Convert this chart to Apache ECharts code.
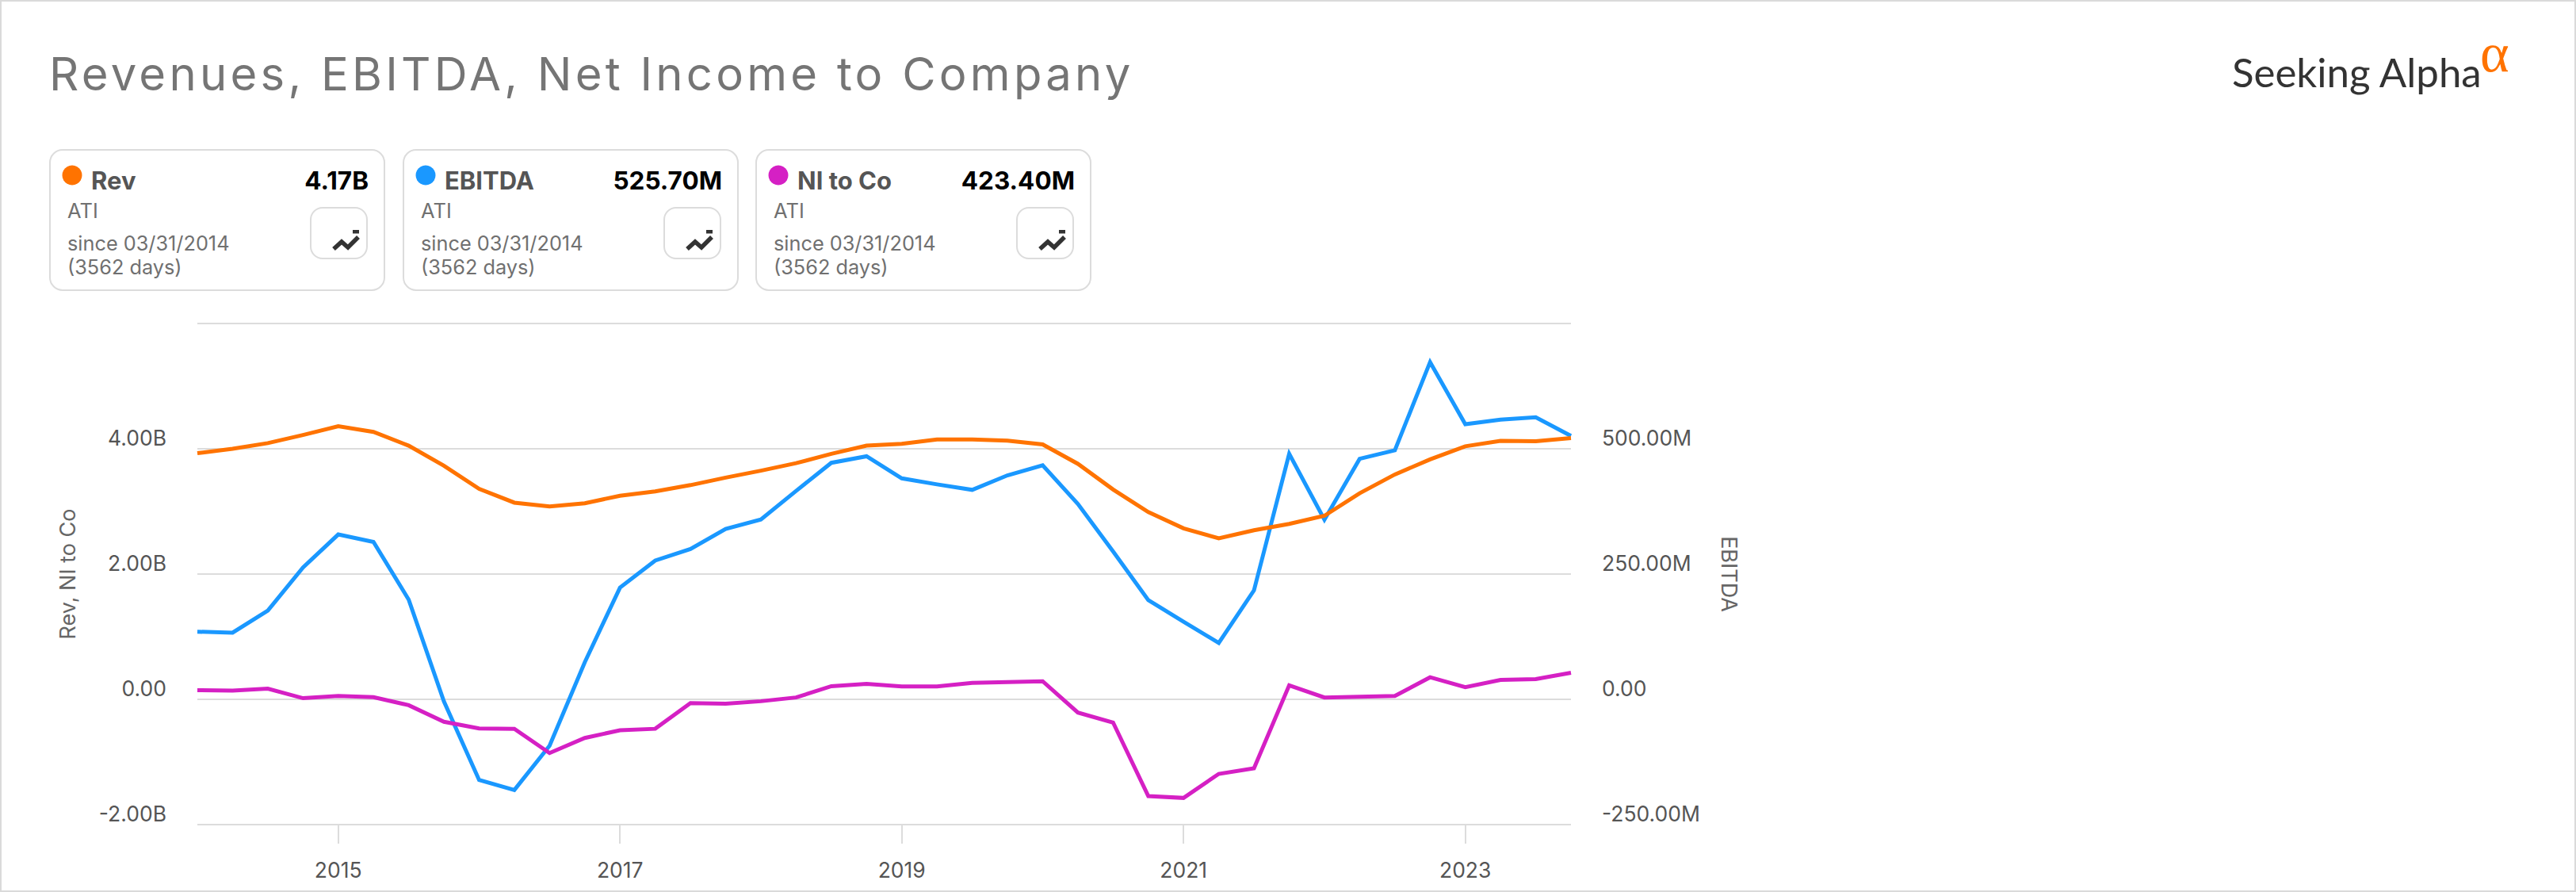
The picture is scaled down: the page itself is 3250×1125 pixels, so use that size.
<!DOCTYPE html>
<html>
<head>
<meta charset="utf-8">
<style>
html,body{margin:0;padding:0;background:#fff}
#chart{width:3250px;height:1125px}
</style>
<script src="https://cdn.jsdelivr.net/npm/echarts@6/dist/echarts.min.js"></script>
</head>
<body>
<div id="chart"></div>
<script>
const titleText = 'Revenues, EBITDA, Net Income to Company';
const quarters = [
 '2014-01','2014-04','2014-07','2014-10','2015-01','2015-04','2015-07','2015-10',
 '2016-01','2016-04','2016-07','2016-10','2017-01','2017-04','2017-07','2017-10',
 '2018-01','2018-04','2018-07','2018-10','2019-01','2019-04','2019-07','2019-10',
 '2020-01','2020-04','2020-07','2020-10','2021-01','2021-04','2021-07','2021-10',
 '2022-01','2022-04','2022-07','2022-10','2023-01','2023-04','2023-07','2023-10'];
const revB = [3.93,4.0,4.09,4.22,4.36,4.27,4.05,3.73,3.36,3.14,3.08,3.13,3.25,3.32,3.42,3.54,3.65,3.77,3.92,4.05,
 4.08,4.15,4.15,4.13,4.07,3.76,3.35,2.99,2.73,2.57,2.70,2.80,2.93,3.29,3.59,3.83,4.04,4.125,4.12,4.17];
const niB = [0.147,0.14,0.17,0.018,0.053,0.035,-0.094,-0.358,-0.464,-0.47,-0.857,-0.617,-0.493,-0.47,-0.059,-0.07,-0.03,0.03,0.21,0.247,
 0.206,0.206,0.264,0.276,0.288,-0.211,-0.37,-1.545,-1.574,-1.19,-1.10,0.223,0.03,0.04,0.053,0.352,0.194,0.311,0.323,0.4234];
const ebitdaM = [135,133,177,263,329,314,199,-4,-161,-181,-92.5,74,223,277,300,340,359,416,472,485,
 441,429,418,447,467,390,295,198,155,112.5,217.5,490,358.5,480,497,673,549,558,563,525.7];

const cardNames = ['Rev','EBITDA','NI to Co'];
const cardValues = ['4.17B','525.70M','423.40M'];
const cardTicker = 'ATI';
const cardSince = 'since 03/31/2014';
const cardDays = '(3562 days)';
const colors = ['#ff7300','#1a98ff','#d520c4'];
const FONT = 'Inter, "Noto Sans", sans-serif';
const GRID = '#dcdcdc', LABEL = '#555555';

const cardX = [63,509,954];
const graphics = [];
graphics.push({type:'rect',shape:{x:1,y:1,width:3248,height:1123},style:{fill:'none',stroke:'#dadada',lineWidth:2},silent:true});
graphics.push({type:'text',id:'chartTitle',x:62,y:93,style:{text:titleText,font:'400 58px '+FONT,fill:'#757575',textVerticalAlign:'middle',textAlign:'left'}});
// logo
graphics.push({type:'text',x:2816,y:90,style:{text:'Seeking Alpha',font:'400 51px Lato, sans-serif',fill:'#333333',textVerticalAlign:'middle',textAlign:'left'}});
graphics.push({type:'text',x:3129,y:66,style:{text:'α',font:'400 70px "Liberation Serif", serif',fill:'#ff7300',textVerticalAlign:'middle',textAlign:'left'}});

cardX.forEach((x,i)=>{
  graphics.push({type:'rect',shape:{x:x,y:189,width:422,height:177,r:16},style:{fill:'#fff',stroke:'#dcdcdc',lineWidth:2}});
  graphics.push({type:'circle',shape:{cx:x+28,cy:221,r:12.5},style:{fill:colors[i]}});
  graphics.push({type:'text',x:x+52,y:227,style:{text:cardNames[i],font:'700 31px '+FONT,fill:'#555555',textVerticalAlign:'middle'}});
  graphics.push({type:'text',x:x+402,y:227,style:{text:cardValues[i],font:'700 31.5px '+FONT,fill:'#000000',textVerticalAlign:'middle',textAlign:'right'}});
  graphics.push({type:'text',x:x+22,y:265,style:{text:cardTicker,font:'400 25.5px '+FONT,fill:'#707070',textVerticalAlign:'middle'}});
  graphics.push({type:'text',x:x+22,y:306,style:{text:cardSince,font:'400 25.3px '+FONT,fill:'#707070',textVerticalAlign:'middle'}});
  graphics.push({type:'text',x:x+22,y:336,style:{text:cardDays,font:'400 25.3px '+FONT,fill:'#707070',textVerticalAlign:'middle'}});
  graphics.push({type:'rect',shape:{x:x+329,y:262,width:71,height:64,r:15},style:{fill:'#fff',stroke:'#dcdcdc',lineWidth:2}});
  graphics.push({type:'polyline',shape:{points:[[x+358,314],[x+368,305],[x+376,312],[x+389,299]]},style:{fill:'none',stroke:'#333333',lineWidth:5.5,lineJoin:'miter'}});
  graphics.push({type:'rect',shape:{x:x+382,y:290,width:8,height:4.5},style:{fill:'#333333'}});
});

const isTickYear = (idx)=>{
  const q = quarters[idx];
  return q.endsWith('-01') && Number(q.slice(0,4))%2===1;
};
const fmtLeft = v => v===0 ? '0.00' : (v.toFixed(2)+'B');
const fmtRight = v => v===0 ? '0.00' : (v.toFixed(2)+'M');

const chart = echarts.init(document.getElementById('chart'),null,{renderer:'svg'});
chart.setOption({
  animation:false,
  backgroundColor:'#ffffff',
  graphic:graphics,
  grid:{left:249,right:1268,top:408,bottom:85,containLabel:false},
  xAxis:{
    type:'category',data:quarters,boundaryGap:false,
    axisLine:{show:false,onZero:false},
    axisTick:{show:true,length:24,alignWithLabel:true,interval:(i)=>isTickYear(i),lineStyle:{color:GRID,width:2}},
    axisLabel:{interval:(i)=>isTickYear(i),formatter:v=>v.slice(0,4),margin:43,fontFamily:FONT,fontSize:26.5,color:LABEL,verticalAlign:'top'},
    splitLine:{show:false}
  },
  yAxis:[
    {type:'value',min:-2,max:6,interval:2,position:'left',
     name:'Rev, NI to Co',nameLocation:'middle',nameGap:150,nameRotate:90,
     nameTextStyle:{fontFamily:FONT,fontSize:27,color:'#666666'},
     axisLine:{show:false},axisTick:{show:false},
     axisLabel:{showMaxLabel:false,formatter:fmtLeft,margin:39,fontFamily:FONT,fontSize:26.5,color:LABEL,verticalAlign:'bottom',padding:[0,0,1,0]},
     splitLine:{show:true,lineStyle:{color:GRID,width:2}}},
    {type:'value',min:-250,max:750,interval:250,position:'right',
     name:'EBITDA',nameLocation:'middle',nameGap:186,nameRotate:-90,
     nameTextStyle:{fontFamily:FONT,fontSize:27,color:'#666666'},
     axisLine:{show:false},axisTick:{show:false},
     axisLabel:{showMaxLabel:false,formatter:fmtRight,margin:39,fontFamily:FONT,fontSize:26.5,color:LABEL,verticalAlign:'bottom',padding:[0,0,1,0]},
     splitLine:{show:false}}
  ],
  series:[
    {name:'EBITDA',type:'line',yAxisIndex:1,data:ebitdaM,showSymbol:false,z:3,lineStyle:{color:colors[1],width:5,join:'miter'},itemStyle:{color:colors[1]}},
    {name:'NI to Co',type:'line',yAxisIndex:0,data:niB,showSymbol:false,z:4,lineStyle:{color:colors[2],width:5,join:'miter'},itemStyle:{color:colors[2]}},
    {name:'Rev',type:'line',yAxisIndex:0,data:revB,showSymbol:false,z:5,lineStyle:{color:colors[0],width:5,join:'miter'},itemStyle:{color:colors[0]}}
  ]
});
// letter spacing of the title is applied on the SVG text ECharts produced
document.querySelectorAll('#chart svg text').forEach(t=>{
  if(t.textContent===titleText) t.style.letterSpacing='4.25px';
});
</script>
</body>
</html>
